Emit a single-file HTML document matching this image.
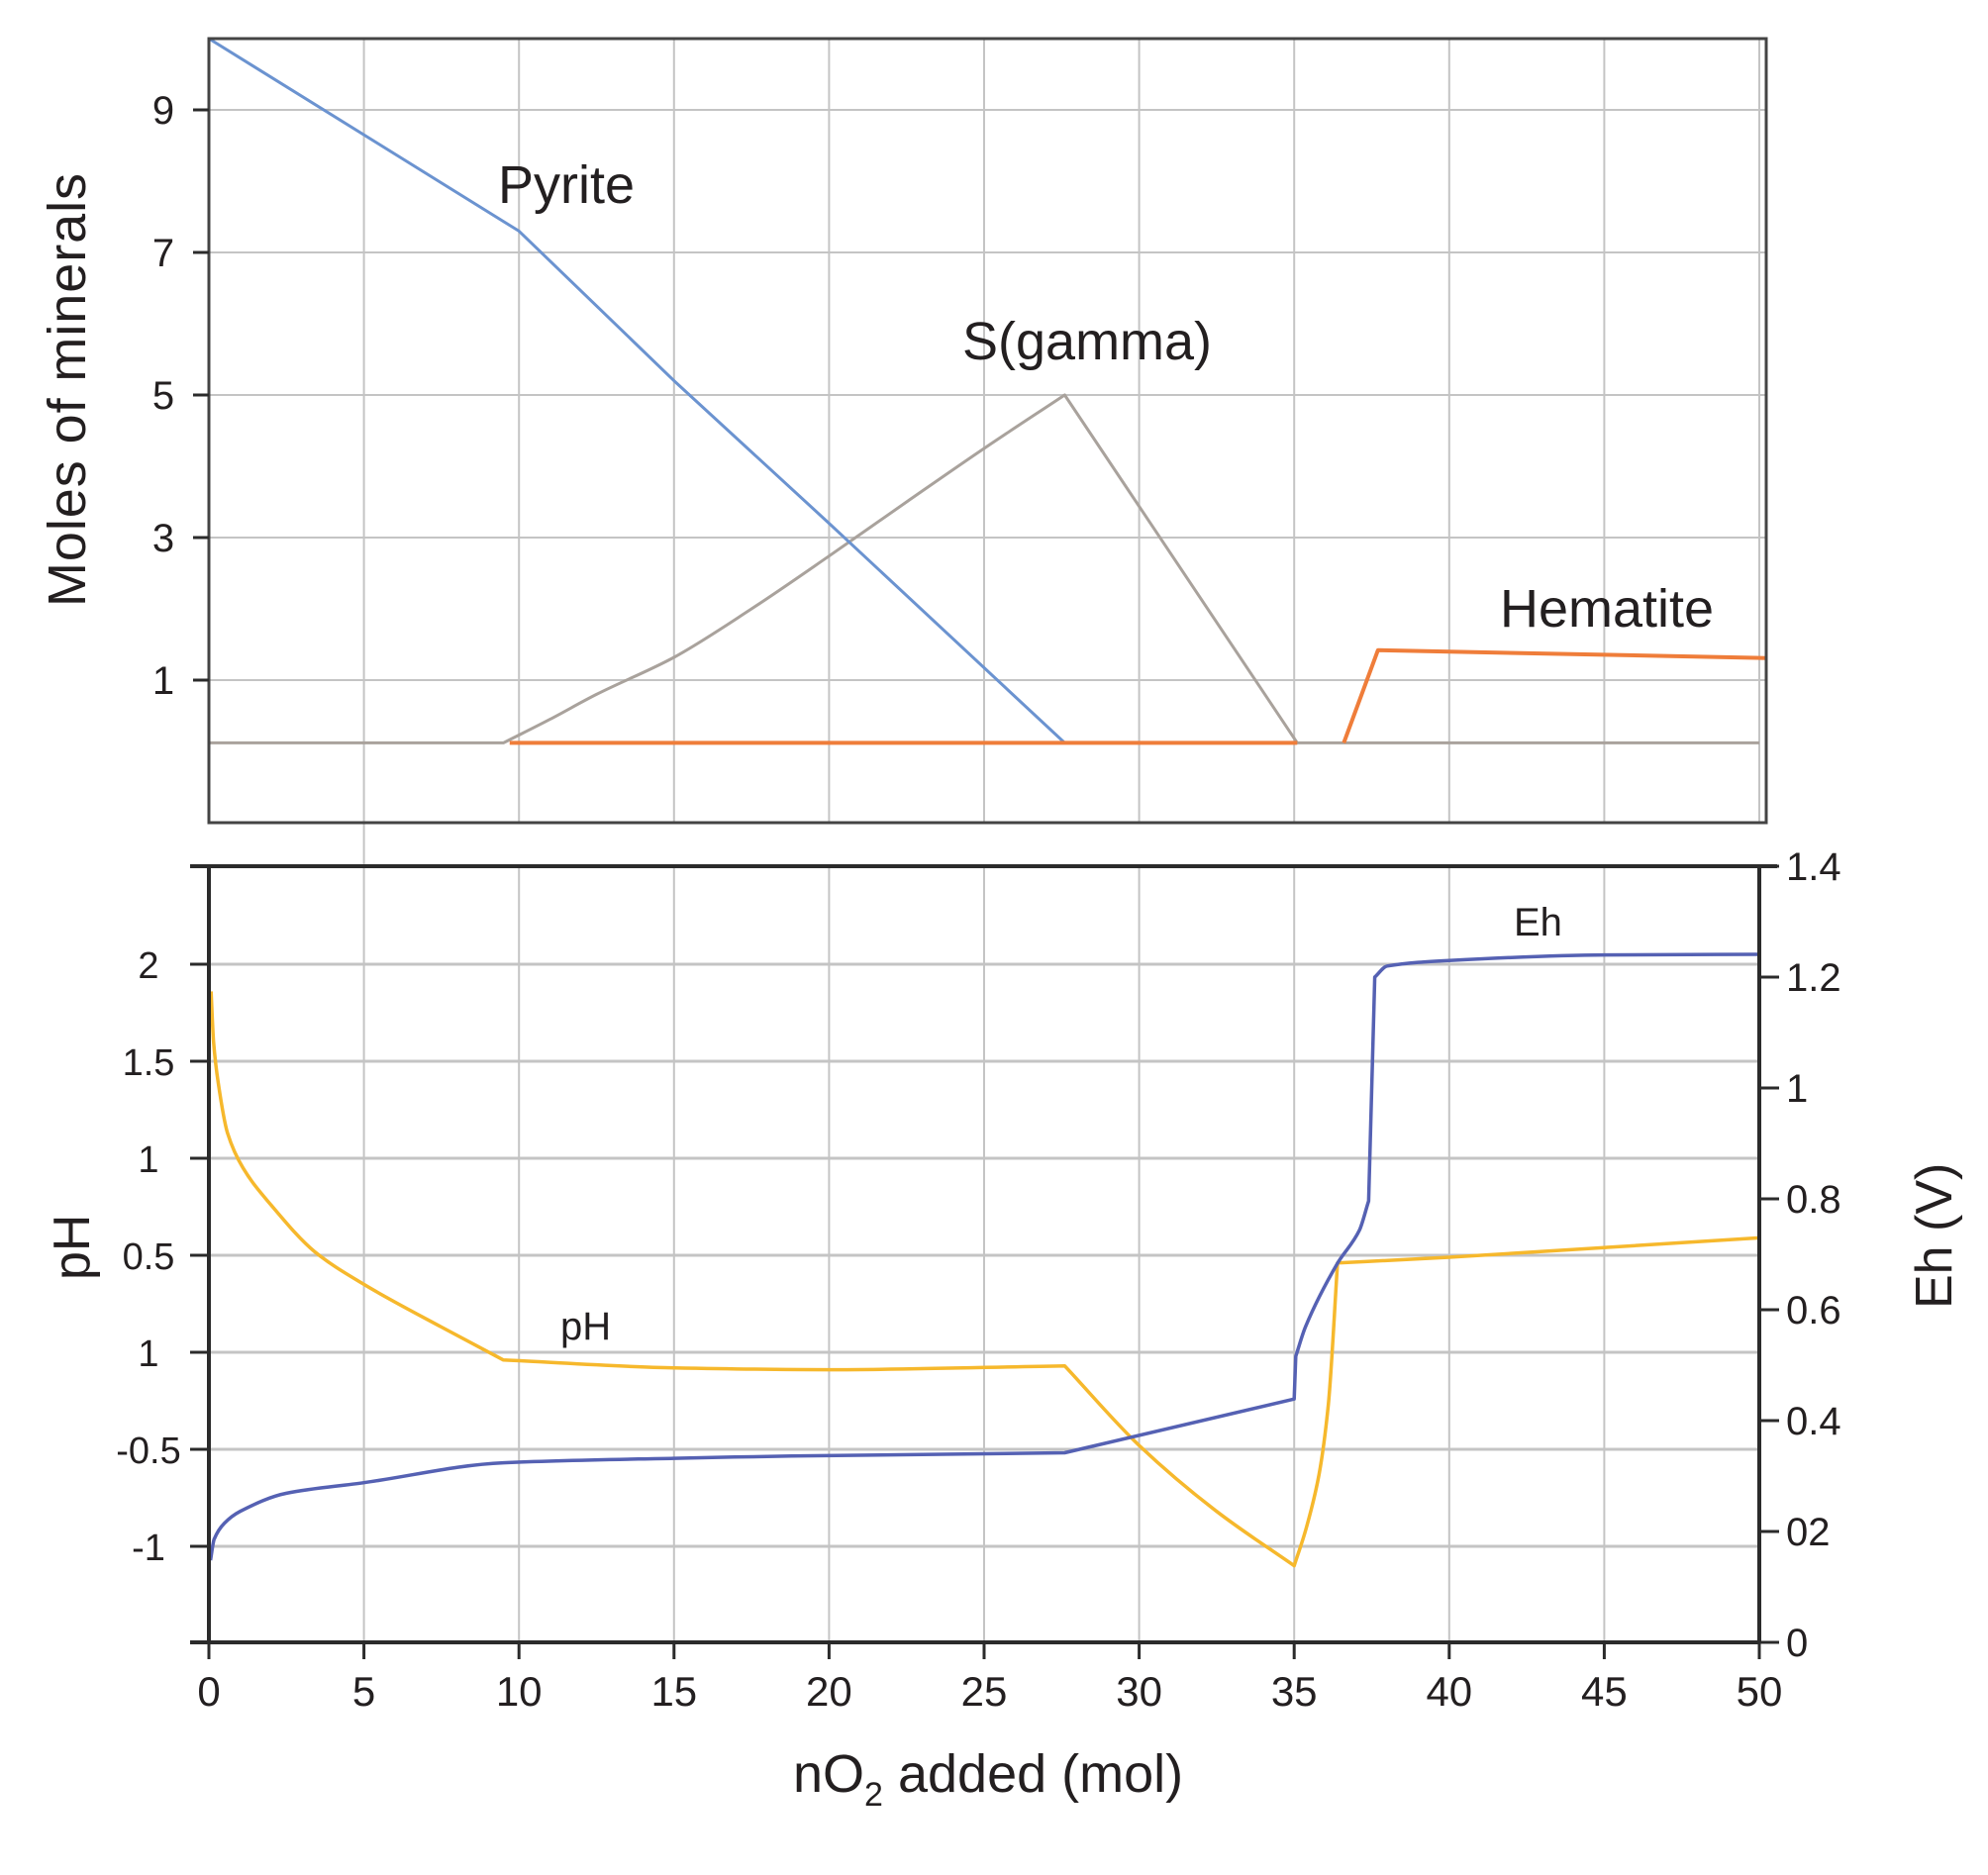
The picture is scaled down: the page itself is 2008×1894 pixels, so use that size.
<!DOCTYPE html>
<html><head><meta charset="utf-8"><style>
html,body{margin:0;padding:0;background:#fff}
svg{display:block}
text{font-family:"Liberation Sans",sans-serif;fill:#231f20}
</style></head><body>
<svg id="chart" width="2008" height="1894" viewBox="0 0 2008 1894" xmlns="http://www.w3.org/2000/svg">
<g id="grid"></g>
<g id="series"></g>
<g id="axes"></g>
<text x="503" y="205" font-size="54">Pyrite</text>
<text x="972" y="363" font-size="54">S(gamma)</text>
<text x="1515" y="633" font-size="54">Hematite</text>
<text x="1529" y="945" font-size="40">Eh</text>
<text x="566" y="1353" font-size="40">pH</text>
<text transform="translate(86,613) rotate(-90)" font-size="54" textLength="438">Moles of minerals</text>
<text transform="translate(90,1293) rotate(-90)" font-size="52">pH</text>
<text transform="translate(1971,1322) rotate(-90)" font-size="52">Eh (V)</text>
<text x="801" y="1810" font-size="54">nO<tspan font-size="34" dy="14">2</tspan><tspan dy="-14"> added (mol)</tspan></text>
</svg>
<script>
const xTicks=[0,5,10,15,20,25,30,35,40,45,50];
const molTicks=[1,3,5,7,9];
const phTicks=[2,1.5,1,0.5,0,-0.5,-1];
const phTickLabels=["2","1.5","1","0.5","1","-0.5","-1"];
const ehTicks=[0,0.2,0.4,0.6,0.8,1,1.2,1.4];
const ehTickLabels=["0","02","0.4","0.6","0.8","1","1.2","1.4"];
const pyriteX=[0,10,15,20,27.6];
const pyriteY=[10,7.3,5.2,3.2,0.12];
const sX=[0,9.5,11,12.5,15,17.5,20,22.5,25,27.6,35.1,50];
const sY=[0.12,0.12,0.45,0.8,1.32,2.0,2.74,3.5,4.25,5.0,0.12,0.12];
const hemX1=[9.7,35.1];
const hemY1=[0.12,0.12];
const hemX2=[36.6,37.7,50.2];
const hemY2=[0.12,1.42,1.31];
const phX=[0.07,0.15,0.3,0.6,1.1,2,3.4,5,7.5,9.5,15,20,27.6,30,32.5,35,35.4,35.8,36.1,36.4,40,45,50];
const phY=[1.86,1.6,1.39,1.13,0.95,0.76,0.52,0.35,0.13,-0.04,-0.08,-0.09,-0.07,-0.48,-0.82,-1.1,-0.9,-0.63,-0.27,0.46,0.49,0.54,0.59];
const phKinks=[9.5,27.6,35,36.4];
const ehX=[0.05,0.17,0.5,1,2.5,5,9.5,15,18.8,27.6,35,35.05,35.37,36.4,37.1,37.4,37.6,38,40,45,50];
const ehY=[0.148,0.186,0.215,0.236,0.269,0.288,0.324,0.332,0.336,0.342,0.439,0.516,0.57,0.684,0.743,0.796,1.2,1.22,1.23,1.24,1.241];
const ehKinks=[27.6,35,35.05,37.4,37.6];

const NS="http://www.w3.org/2000/svg";
const xs=v=>211+v*31.32;
const ysTop=v=>687-(v-1)*72;
const ysPh=v=>974-(v-2)*196;
const ysEh=v=>1659-v*560;
function mk(tag,attrs,parent){const e=document.createElementNS(NS,tag);for(const k in attrs)e.setAttribute(k,attrs[k]);parent.appendChild(e);return e;}
const grid=document.getElementById('grid'),axes=document.getElementById('axes'),series=document.getElementById('series');
const gc="#c4c4c4";
xTicks.forEach(t=>{const l=mk('line',{x1:xs(t),x2:xs(t),y1:39,y2:831,stroke:gc,'stroke-width':2},grid);

});
molTicks.forEach(t=>{const l=mk('line',{x1:211,x2:1784,y1:ysTop(t),y2:ysTop(t),stroke:gc,'stroke-width':2},grid);

});
const gl=mk('line',{x1:xs(5),x2:xs(5),y1:831,y2:875,stroke:gc,'stroke-width':2},grid);


xTicks.forEach(t=>{const l=mk('line',{x1:xs(t),x2:xs(t),y1:875,y2:1659,stroke:gc,'stroke-width':2},grid);

});
phTicks.forEach(t=>{const l=mk('line',{x1:211,x2:1777,y1:ysPh(t),y2:ysPh(t),stroke:gc,'stroke-width':3},grid);

});

function linePath(X,Y,xf,yf){return X.map((x,i)=>(i?'L':'M')+xf(x).toFixed(1)+' '+yf(Y[i]).toFixed(1)).join(' ');}
function smoothPath(X,Y,xf,yf,kinks){
  const P=X.map((x,i)=>[xf(x),yf(Y[i])]);
  const segs=[];let cur=[0];
  for(let i=1;i<P.length;i++){cur.push(i);if(kinks.indexOf(X[i])>=0&&i<P.length-1){segs.push(cur);cur=[i];}}
  segs.push(cur);
  let d='M'+P[0][0].toFixed(1)+' '+P[0][1].toFixed(1);
  segs.forEach(s=>{
    const n=s.length;const pts=s.map(i=>P[i]);
    if(n<3){d+=' L'+pts[n-1][0].toFixed(1)+' '+pts[n-1][1].toFixed(1);return;}
    const dx=[],m=[];for(let i=0;i<n-1;i++){dx.push(pts[i+1][0]-pts[i][0]);m.push((pts[i+1][1]-pts[i][1])/dx[i]);}
    const t=[m[0]];for(let i=1;i<n-1;i++){t.push(m[i-1]*m[i]<=0?0:2/(1/m[i-1]+1/m[i]));}t.push(m[n-2]);
    for(let i=0;i<n-1;i++){const h=dx[i];
      d+=' C'+(pts[i][0]+h/3).toFixed(1)+' '+(pts[i][1]+t[i]*h/3).toFixed(1)+' '+(pts[i+1][0]-h/3).toFixed(1)+' '+(pts[i+1][1]-t[i+1]*h/3).toFixed(1)+' '+pts[i+1][0].toFixed(1)+' '+pts[i+1][1].toFixed(1);}
  });
  return d;}
function addPath(d,color,w,name){const p=mk('path',{d:d,fill:'none',stroke:color,'stroke-width':w,'stroke-linejoin':'round'},series);

}
addPath(smoothPath(sX,sY,xs,ysTop,[9.5,27.6,35.1]),'#a9a29c',3,'s-gamma-line');
addPath(linePath(pyriteX,pyriteY,xs,ysTop),'#6b93d0',3,'pyrite-line');
addPath(linePath(hemX1,hemY1,xs,ysTop),'#ef7d3a',4,'hematite-line-baseline');
addPath(linePath(hemX2,hemY2,xs,ysTop),'#ef7d3a',4,'hematite-line');
addPath(smoothPath(phX,phY,xs,ysPh,phKinks),'#f6b82c',3.5,'ph-line');
addPath(smoothPath(ehX,ehY,xs,ysEh,ehKinks),'#5561b3',3.5,'eh-line');

const ac="#2b2b2b";
const tf=mk('rect',{x:211,y:39,width:1573,height:792,fill:'none',stroke:'#444','stroke-width':3},axes);


[[192,875,1795,875],[211,875,211,1659],[192,1659,1777,1659],[1777,875,1777,1659]].forEach(a=>{const l=mk('line',{x1:a[0],y1:a[1],x2:a[2],y2:a[3],stroke:ac,'stroke-width':4},axes);

});
molTicks.forEach(t=>{mk('line',{x1:195,x2:211,y1:ysTop(t),y2:ysTop(t),stroke:ac,'stroke-width':3},axes);
const tx=mk('text',{x:165,y:ysTop(t)+14,'font-size':40,'text-anchor':'middle'},axes);tx.textContent=t;

});
phTicks.forEach((t,i)=>{mk('line',{x1:192,x2:211,y1:ysPh(t),y2:ysPh(t),stroke:ac,'stroke-width':3},axes);
const tx=mk('text',{x:150,y:ysPh(t)+14,'font-size':38,'text-anchor':'middle'},axes);tx.textContent=phTickLabels[i];

});
ehTicks.forEach((t,i)=>{mk('line',{x1:1777,x2:1797,y1:ysEh(t),y2:ysEh(t),stroke:ac,'stroke-width':3},axes);
const tx=mk('text',{x:1804,y:ysEh(t)+14,'font-size':40},axes);tx.textContent=ehTickLabels[i];

});
xTicks.forEach(t=>{mk('line',{x1:xs(t),x2:xs(t),y1:1659,y2:1676,stroke:ac,'stroke-width':3},axes);
const tx=mk('text',{x:xs(t),y:1723,'font-size':42,'text-anchor':'middle'},axes);tx.textContent=t;

});
</script>
</body></html>
